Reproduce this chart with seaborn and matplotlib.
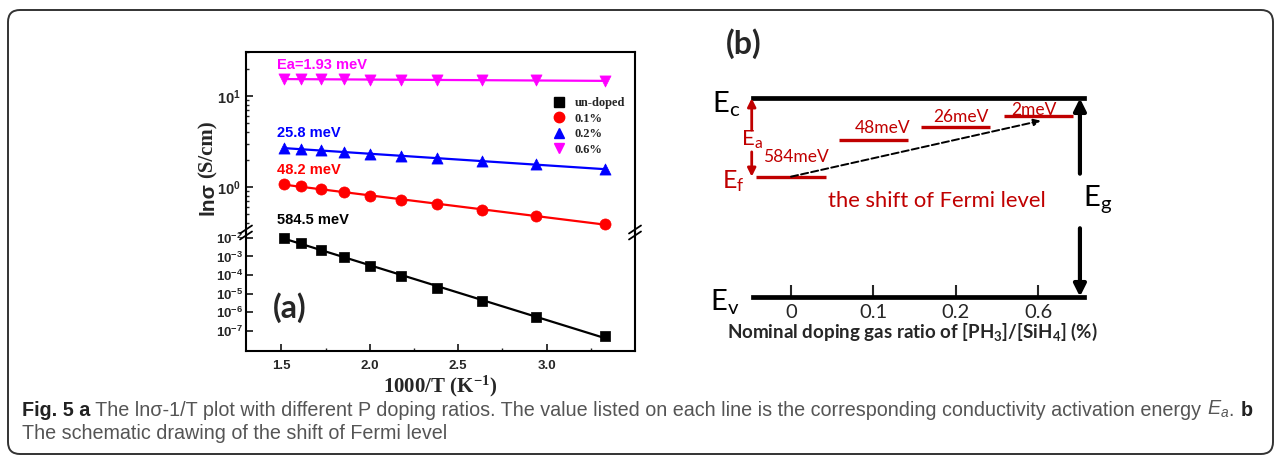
import numpy as np
import pandas as pd
import matplotlib
matplotlib.use("Agg")
import matplotlib.pyplot as plt
import seaborn as sns
from matplotlib.patches import FancyBboxPatch
from matplotlib.lines import Line2D
from matplotlib.ticker import FixedLocator, LogLocator, NullFormatter, FormatStrFormatter

# ---- panel (a) data: conductivity vs 1000/T ----
inv_T = [1.515, 1.613, 1.724, 1.852, 2.000, 2.174, 2.381, 2.632, 2.941, 3.333]
sigma_undoped = [1.0e-2, 5.4e-3, 2.3e-3, 9.3e-4, 3.2e-4, 9.1e-5, 2.1e-5, 4.1e-6, 5.4e-7, 5.2e-8]
sigma_01 = [1.07, 1.02, 0.95, 0.875, 0.80, 0.726, 0.644, 0.563, 0.475, 0.395]
sigma_02 = [2.65, 2.58, 2.54, 2.43, 2.33, 2.20, 2.06, 1.92, 1.77, 1.56]
sigma_06 = [15.3, 15.3, 15.2, 15.2, 15.1, 15.1, 15.0, 14.9, 14.8, 14.6]
series_names = ["un-doped", "0.1%", "0.2%", "0.6%"]
activation_labels = ["584.5 meV", "48.2 meV", "25.8 meV", "Ea=1.93 meV"]

# ---- panel (b) data: schematic Fermi level shift ----
doping_ticks = ["0", "0.1", "0.2", "0.6"]
level_labels = ["584meV", "48meV", "26meV", "2meV"]
fermi_level = [0.605, 0.79, 0.857, 0.912]  # height of E_f in the gap (E_v = 0, E_c = 1)

colors = {"un-doped": "black", "0.1%": "#ff0000", "0.2%": "#0000ff", "0.6%": "#ff00ff"}
markers = {"un-doped": "s", "0.1%": "o", "0.2%": "^", "0.6%": "v"}
red = "#c00000"

df = pd.DataFrame({
    "inv_T": inv_T * 4,
    "sigma": sigma_undoped + sigma_01 + sigma_02 + sigma_06,
    "sample": np.repeat(series_names, len(inv_T)),
})

sns.set_theme(style="ticks", rc={"xtick.direction": "in", "ytick.direction": "in",
                                 "axes.linewidth": 1.5, "axes.edgecolor": "black"})
plt.rcParams["font.family"] = ["Liberation Sans", "DejaVu Sans"]
plt.rcParams["mathtext.default"] = "regular"

fig = plt.figure(figsize=(12.81, 4.61), dpi=100)
W, H = 1281, 461

ax_top = fig.add_axes([246 / W, (H - 232.5) / H, 389 / W, 180 / H])
ax_bot = fig.add_axes([246 / W, (H - 350.7) / H, 389 / W, 118.2 / H], sharex=ax_top)

for ax in (ax_top, ax_bot):
    ax.set_yscale("log")
    ax.set_facecolor("none")

for name in series_names:
    sub = df[df["sample"] == name]
    ax = ax_bot if name == "un-doped" else ax_top
    k, b = np.polyfit(sub["inv_T"], np.log10(sub["sigma"]), 1)
    xs = np.array([sub["inv_T"].min(), sub["inv_T"].max()])
    sns.lineplot(x=xs, y=10 ** (k * xs + b), color=colors[name], lw=1.6, ax=ax)
    sns.scatterplot(data=sub, x="inv_T", y="sigma", color=colors[name], marker=markers[name],
                    s=52 if name == "un-doped" else 64, edgecolor=colors[name], linewidth=0.5,
                    ax=ax, zorder=3, legend=False)

# activation energy labels (all sit in the upper axes)
label_y = {"0.6%": 22.0, "0.2%": 3.9, "0.1%": 1.53, "un-doped": 0.43}
for name, txt in zip(series_names, activation_labels):
    ax_top.text(1.475, label_y[name], txt, color=colors[name], fontsize=10.5,
                fontweight="bold", va="center", ha="left")

ax_top.set_xlim(1.3, 3.5)
ax_top.set_ylim(0.316, 30)
ax_bot.set_ylim(8.6e-9, 0.0193)

ax_top.spines["bottom"].set_visible(False)
ax_bot.spines["top"].set_visible(False)
ax_top.tick_params(axis="x", which="both", bottom=False, top=False, labelbottom=False)
ax_top.yaxis.set_major_locator(FixedLocator([1, 10]))
ax_top.yaxis.set_minor_locator(LogLocator(base=10, subs=np.arange(2, 10)))
ax_top.yaxis.set_minor_formatter(NullFormatter())
ax_bot.yaxis.set_major_locator(FixedLocator([1e-7, 1e-6, 1e-5, 1e-4, 1e-3, 1e-2]))
ax_bot.yaxis.set_minor_locator(LogLocator(base=10, subs=np.arange(2, 10)))
ax_bot.yaxis.set_minor_formatter(NullFormatter())
ax_bot.xaxis.set_major_locator(FixedLocator([1.5, 2.0, 2.5, 3.0]))
ax_bot.xaxis.set_minor_locator(FixedLocator([1.75, 2.25, 2.75, 3.25]))
ax_bot.xaxis.set_major_formatter(FormatStrFormatter("%.1f"))

for ax in (ax_top, ax_bot):
    ax.tick_params(which="major", length=5, width=1.3, right=False, top=False)
    ax.tick_params(which="minor", length=2.5, width=1.0, right=False, top=False)
    ax.set_ylabel("")
    ax.set_xlabel("")
ax_top.tick_params(axis="y", labelsize=10.5)
ax_bot.tick_params(axis="y", labelsize=9.5, pad=2)
ax_bot.tick_params(axis="x", labelsize=9.5, pad=7)
for ax in (ax_top, ax_bot):
    plt.setp(ax.get_yticklabels(), fontweight="bold")
plt.setp(ax_bot.get_xticklabels(), fontweight="bold")

ax_bot.set_xlabel("1000/T (K$^{-1}$)", fontsize=15, fontweight="bold",
                  family=["Liberation Serif", "DejaVu Serif"], labelpad=1)

fig.text(208 / W, 1 - 199 / H, "ln\u03c3", rotation=90, fontsize=15, fontweight="bold",
         ha="center", va="center")
fig.text(208 / W, 1 - 149 / H, "(S/cm)", rotation=90, fontsize=15, fontweight="bold",
         family=["Liberation Serif", "DejaVu Serif"], ha="center", va="center")

handles = [Line2D([], [], ls="none", marker=markers[n], color=colors[n],
                  markersize=7.5 if n != "un-doped" else 6.5) for n in series_names]
ax_top.legend(handles, series_names, loc="upper left", bbox_to_anchor=(0.775, 0.78),
              frameon=False, borderaxespad=0, handlelength=1.0, handletextpad=0.8,
              labelspacing=0.28, prop={"family": "Liberation Serif", "weight": "bold", "size": 9})

ax_bot.text(1.45, 1.7e-6, "(a)", fontsize=23, fontweight="bold", family=["Lato", "DejaVu Sans"],
            ha="left", va="center")

# ---- panel (b) ----
axb = fig.add_axes([752.7 / W, (H - 296.7) / H, 331.6 / W, 198.4 / H])
axb.set_facecolor("none")
axb.set_xlim(-0.465, 3.56)
axb.set_ylim(0, 1)
for side in ("left", "right"):
    axb.spines[side].set_visible(False)
for side in ("top", "bottom"):
    axb.spines[side].set_linewidth(3.4)
axb.set_yticks([])
axb.set_xticks(range(len(doping_ticks)))
axb.set_xticklabels(doping_ticks, family=["Lato", "DejaVu Sans"])
axb.tick_params(axis="x", direction="in", length=9, width=1.5, labelsize=14.5, pad=5, top=False)
axb.set_xlabel("Nominal doping gas ratio of [PH$_3$]/[SiH$_4$] (%)", fontsize=13.5,
               fontweight="bold", family=["Lato", "DejaVu Sans"])
axb.xaxis.set_label_coords(0.48, -0.12)

pos = np.arange(len(fermi_level))
axb.hlines(fermi_level, pos - 0.42, pos + 0.42, color=red, lw=2.4)
label_dx = [0.06, 0.11, 0.06, -0.05]
label_dy = [0.10, 0.06, 0.05, 0.03]
for i, txt in enumerate(level_labels):
    axb.text(pos[i] + label_dx[i], fermi_level[i] + label_dy[i], txt, color=red, fontsize=12.5,
             family=["Lato", "DejaVu Sans"], ha="center", va="center")

axb.annotate("", xy=(3.03, fermi_level[-1] - 0.025), xytext=(0, fermi_level[0]),
             arrowprops=dict(arrowstyle="-|>", color="black", lw=1.4, ls="--",
                             mutation_scale=10, shrinkA=0, shrinkB=0))
axb.text(1.77, 0.48, "the shift of Fermi level", color=red, fontsize=15.8,
         family=["Lato", "DejaVu Sans"], ha="center", va="center")

# E_a double arrow
axb.annotate("", xy=(-0.477, 1.0), xytext=(-0.477, 0.84), annotation_clip=False,
             arrowprops=dict(arrowstyle="-|>", color=red, lw=2, mutation_scale=12, shrinkA=0, shrinkB=0))
axb.annotate("", xy=(-0.477, fermi_level[0]), xytext=(-0.477, 0.73), annotation_clip=False,
             arrowprops=dict(arrowstyle="-|>", color=red, lw=2, mutation_scale=12, shrinkA=0, shrinkB=0))
axb.text(-0.47, 0.79, "E$_a$", color=red, fontsize=16, family=["Lato", "DejaVu Sans"],
         ha="center", va="center", clip_on=False)
axb.text(-0.70, 0.585, "E$_f$", color=red, fontsize=18, family=["Lato", "DejaVu Sans"],
         ha="center", va="center", clip_on=False)

# E_g double arrow
axb.annotate("", xy=(3.507, 1.0), xytext=(3.507, 0.62), annotation_clip=False,
             arrowprops=dict(arrowstyle="-|>", color="black", lw=3, mutation_scale=18, shrinkA=0, shrinkB=0))
axb.annotate("", xy=(3.507, 0.0), xytext=(3.507, 0.345), annotation_clip=False,
             arrowprops=dict(arrowstyle="-|>", color="black", lw=3, mutation_scale=18, shrinkA=0, shrinkB=0))
axb.text(3.72, 0.49, "E$_g$", color="black", fontsize=21, family=["Lato", "DejaVu Sans"],
         ha="center", va="center", clip_on=False)
axb.text(-0.79, 0.97, "E$_c$", color="black", fontsize=21, family=["Lato", "DejaVu Sans"],
         ha="center", va="center", clip_on=False)
axb.text(-0.81, -0.03, "E$_v$", color="black", fontsize=21, family=["Lato", "DejaVu Sans"],
         ha="center", va="center", clip_on=False)
axb.text(-0.57, 1.274, "(b)", fontsize=23, fontweight="bold", family=["Lato", "DejaVu Sans"],
         ha="center", va="center", clip_on=False)

# ---- frame, axis-break marks and caption in pixel coordinates ----
bg = fig.add_axes([0, 0, 1, 1])
bg.set_xlim(0, W)
bg.set_ylim(H, 0)
bg.axis("off")
bg.set_zorder(5)
bg.add_patch(FancyBboxPatch((8, 10), 1265, 444, boxstyle="round,pad=0,rounding_size=12",
                            fill=False, ec="#333333", lw=1.4))
for bx in (246, 635):
    for dy in (-3, 3):
        bg.plot([bx - 6, bx + 6], [232.5 + dy + 4, 232.5 + dy - 4], color="black", lw=1.3)

cap_font = ["Liberation Sans", "DejaVu Sans"]
cap_size = 14.2
t = bg.text(22, 410, "Fig. 5 a", fontsize=cap_size, fontweight="bold", family=cap_font,
            color="#222222", va="center")
t = bg.annotate(" The ln\u03c3-1/T plot with different P doping ratios. The value listed on each line is the "
                "corresponding conductivity activation energy ", xy=(1, 0), xycoords=t, va="bottom",
                fontsize=cap_size, family=cap_font, color="#555555")
t = bg.annotate("E$_a$", xy=(1, 0), xycoords=t, va="bottom", fontsize=cap_size, family=cap_font,
                style="italic", color="#555555")
t = bg.annotate(". ", xy=(1, 0), xycoords=t, va="bottom", fontsize=cap_size, family=cap_font,
                color="#555555")
bg.annotate("b", xy=(1, 0), xycoords=t, va="bottom", fontsize=cap_size, family=cap_font,
            fontweight="bold", color="#222222")
bg.text(22, 433, "The schematic drawing of the shift of Fermi level", fontsize=cap_size,
        family=cap_font, color="#555555", va="center")

fig.savefig("out.png", dpi=100)
